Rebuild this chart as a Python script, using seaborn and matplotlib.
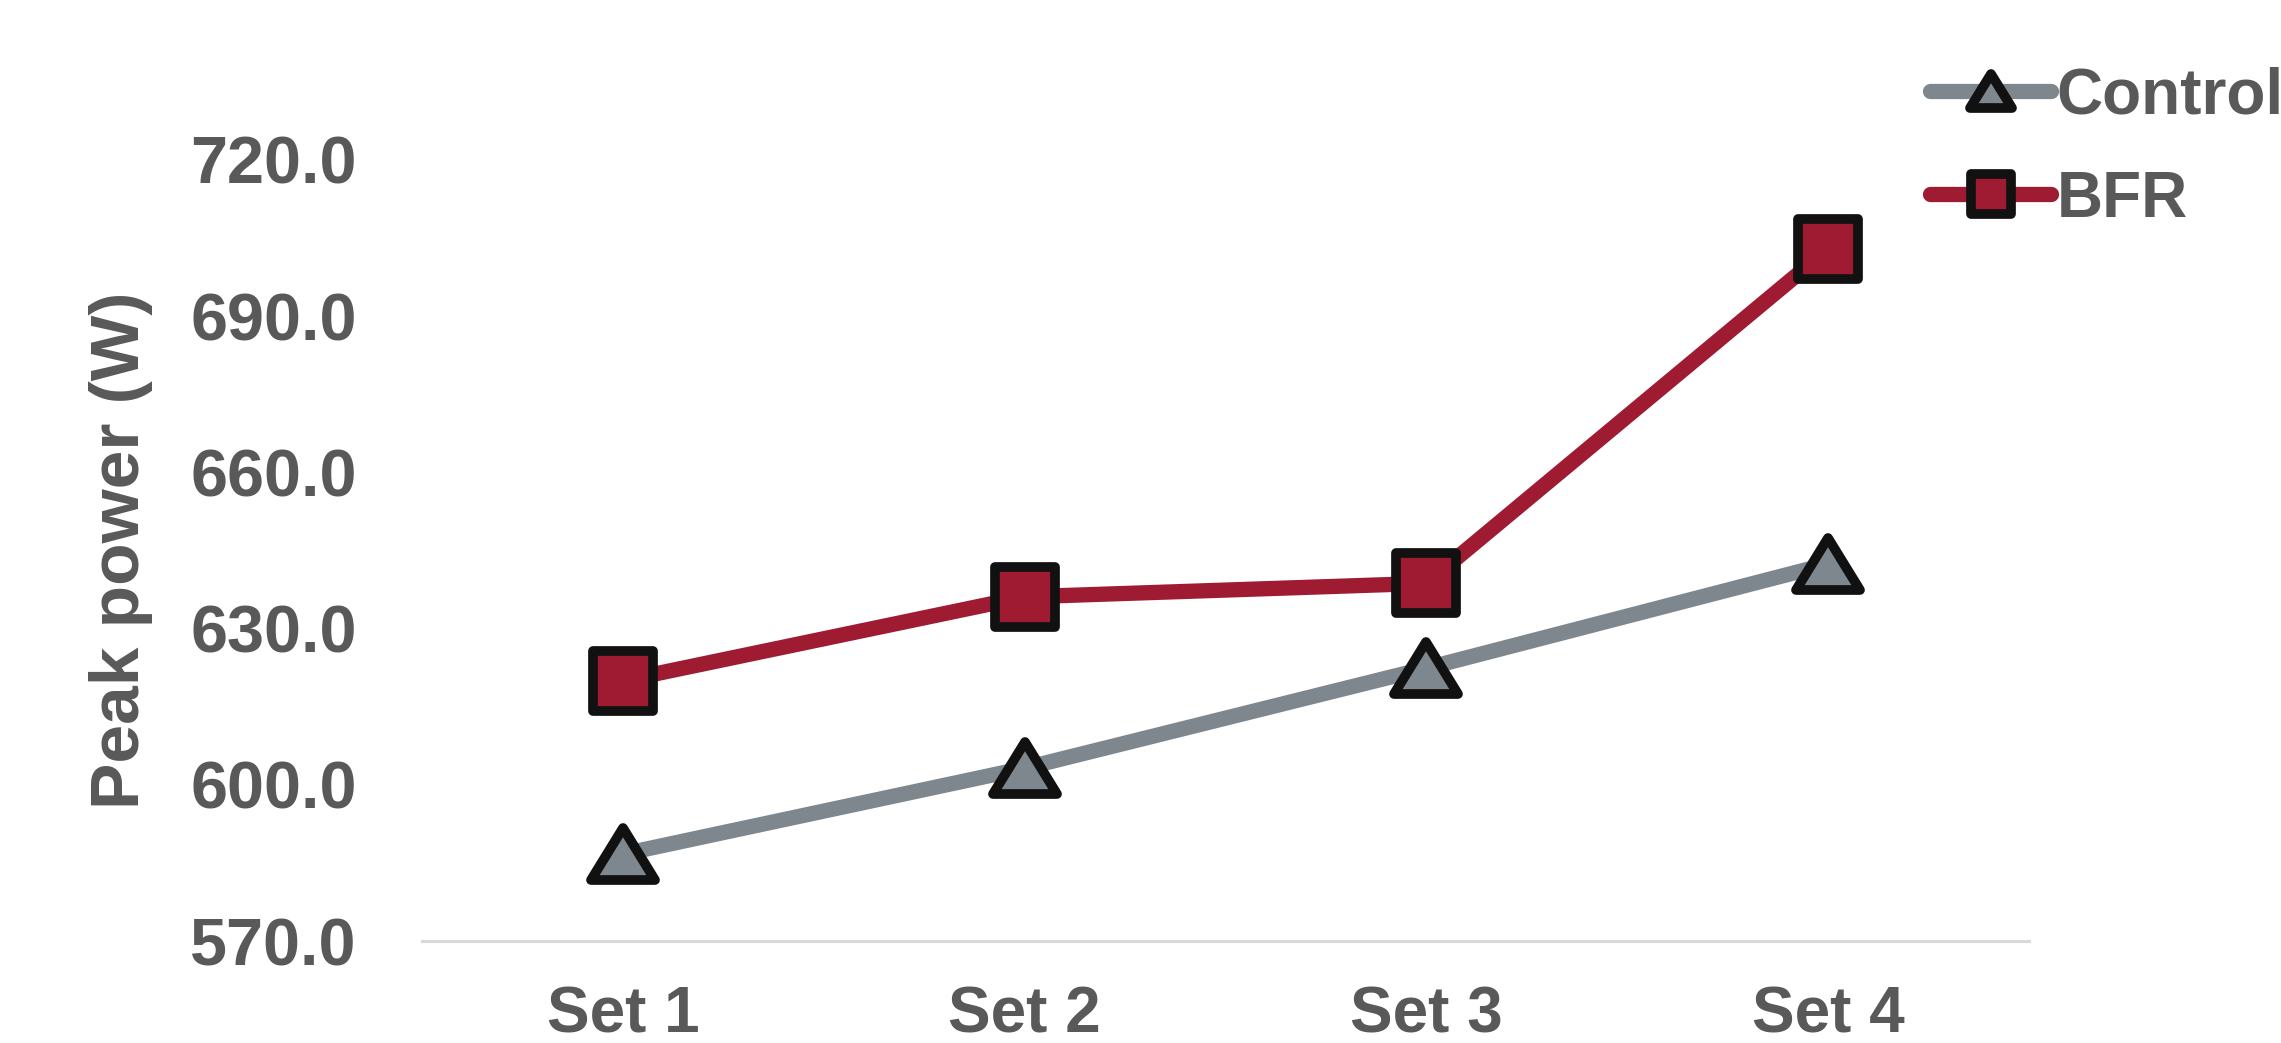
import matplotlib
matplotlib.use("Agg")
import matplotlib.pyplot as plt
from matplotlib.ticker import FormatStrFormatter
from matplotlib.markers import MarkerStyle
from matplotlib.transforms import Affine2D
import seaborn as sns
import pandas as pd

sets = ["Set 1", "Set 2", "Set 3", "Set 4"]
control = [586.7, 603.2, 622.4, 642.4]
bfr = [620.0, 636.1, 638.7, 702.9]
groups = ["Control", "BFR"]
y_ticks = [570.0, 600.0, 630.0, 660.0, 690.0, 720.0]

df = pd.DataFrame({
    "Set": sets * 2,
    "Peak power (W)": control + bfr,
    "Group": ["Control"] * len(sets) + ["BFR"] * len(sets),
})

sns.set_theme(style="white")
plt.rcParams["font.family"] = ["Liberation Sans", "DejaVu Sans"]
TXT = "#595959"
colors = {"Control": "#7F878E", "BFR": "#9E1B32"}

fig = plt.figure(figsize=(22.81, 10.43), dpi=100)
ax = fig.add_axes([422 / 2281, 1 - 941 / 1043, (2029 - 422) / 2281, (941 - 160) / 1043])

sns.lineplot(data=df, x="Set", y="Peak power (W)", hue="Group", style="Group",
             hue_order=groups, style_order=groups, palette=colors,
             markers={"Control": "^", "BFR": "s"}, dashes=False,
             linewidth=11, markersize=40, markeredgecolor="#111111",
             markeredgewidth=7, legend=False, ax=ax, sort=False)

tri = MarkerStyle("^", joinstyle="round", transform=Affine2D().scale(1.2, 1.0))
sq = MarkerStyle("s", joinstyle="round")

lines = ax.get_lines()
for ln in lines:
    ln.set_clip_on(False)
    ln.set_linewidth(11)
    ln.set_solid_capstyle("round")
    if ln.get_marker() == "^":
        ln.set_marker(tri)
        ln.set_markersize(38)
    else:
        ln.set_marker(sq)
        ln.set_markersize(43)

ax.set_xlim(-0.5, len(sets) - 0.5)
ax.set_ylim(y_ticks[0], y_ticks[-1])
ax.set_yticks(y_ticks)
ax.yaxis.set_major_formatter(FormatStrFormatter("%.1f"))
for s in ["top", "right", "left"]:
    ax.spines[s].set_visible(False)
ax.spines["bottom"].set_color("#D9D9D9")
ax.spines["bottom"].set_linewidth(2.2)
ax.tick_params(axis="y", length=0, pad=47, labelsize=48, labelcolor=TXT)
ax.tick_params(axis="x", length=0, pad=32, labelsize=46, labelcolor=TXT)
for lab in ax.get_xticklabels() + ax.get_yticklabels():
    lab.set_fontweight("bold")
ax.set_xlabel("")
ax.set_ylabel("Peak power (W)", fontsize=50, fontweight="bold", color=TXT)
ax.yaxis.set_label_coords(-(422 - 153) / (2029 - 422), (941 - 550) / (941 - 160))

handles = [lines[0], lines[1]]
leg = fig.legend(handles, groups, loc="center left",
                 bbox_to_anchor=(1930 / 2281, 1 - 148 / 1043),
                 frameon=False, fontsize=46, handlelength=1.9,
                 handletextpad=0.08, labelspacing=0.68, borderpad=0,
                 borderaxespad=0)
for t in leg.get_texts():
    t.set_color(TXT)
    t.set_fontweight("bold")
for h in leg.legend_handles:
    h.set_markersize(h.get_markersize() * 0.66)
    h.set_linewidth(11)
    h.set_solid_capstyle("round")

fig.savefig("out.png", dpi=100)
